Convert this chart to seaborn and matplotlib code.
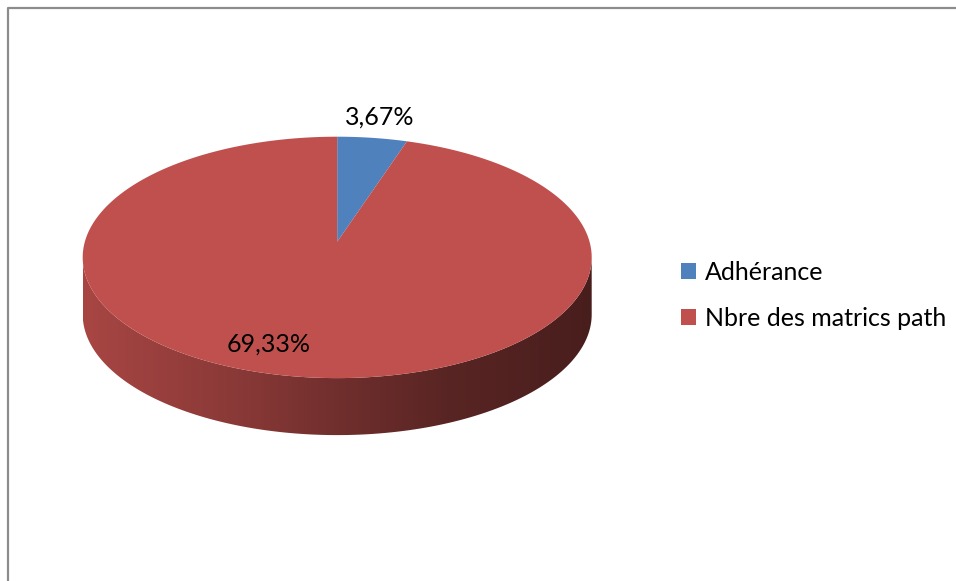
import numpy as np
import matplotlib
matplotlib.use("Agg")
import matplotlib.pyplot as plt
import seaborn as sns
from matplotlib.patches import Polygon, Patch

# Data
categories = ["Adhérance", "Nbre des matrics path"]
values = [3.67, 69.33]
colors = ["#4F81BD", "#C0504D"]

sns.set_theme(style="white")
plt.rcParams["font.family"] = ["Lato", "DejaVu Sans"]

fig = plt.figure(figsize=(9.56, 5.81), dpi=100)
ax = fig.add_axes([0, 0, 1, 1])
ax.set_xlim(0, 956)
ax.set_ylim(581, 0)
ax.axis("off")

# Geometry of the tilted disc (pixel space) and perspective strength
cx, cy, a, b, k, depth = 337.2, 257.4, 254.5, 120.7, 0.13, 57
sx = a * np.sqrt(1 - k * k)


def project(phi, drop=0.0):
    """Point on the unit rim at angle phi (clockwise from top) -> screen."""
    u, v = np.sin(phi), np.cos(phi)
    w = 1 + k * v
    return cx + sx * u / w, cy - b * (v + k) / w + drop


apex = (cx, cy - b * k)

# slice angles, starting at 12 o'clock and going clockwise
fracs = np.array(values) / np.sum(values)
edges = np.concatenate([[0], np.cumsum(fracs)]) * 2 * np.pi

# shading of the rim from left (lit) to right (shadow)
shade_t = [0.0, 0.33, 0.5, 0.72, 1.0]
shade_f = [0.875, 0.70, 0.585, 0.46, 0.375]

front_lo = np.arccos(-k)
front_hi = 2 * np.pi - front_lo

for i, col in enumerate(colors):
    lo = max(edges[i], front_lo)
    hi = min(edges[i + 1], front_hi)
    if hi <= lo:
        continue
    ph = np.linspace(lo, hi, 300)
    tx, ty = project(ph)
    bx, by = project(ph[::-1], depth)
    poly = Polygon(np.column_stack([np.r_[tx, bx], np.r_[ty, by]]),
                   closed=True, facecolor="none", edgecolor="none")
    ax.add_patch(poly)
    base = np.array(matplotlib.colors.to_rgb(col))
    xs = np.linspace(cx - a, cx + a, 512)
    t = (xs - (cx - a)) / (2 * a)
    f = np.interp(t, shade_t, shade_f)
    img = (base[None, :] * f[:, None])[None, :, :]
    im = ax.imshow(img, extent=(cx - a, cx + a, cy + b + depth + 5, cy - 5),
                   aspect="auto", interpolation="bilinear", zorder=1)
    im.set_clip_path(poly)

# top faces
for i, col in enumerate(colors):
    ph = np.linspace(edges[i], edges[i + 1], 400)
    x, y = project(ph)
    pts = np.column_stack([np.r_[apex[0], x], np.r_[apex[1], y]])
    ax.add_patch(Polygon(pts, closed=True, facecolor=col,
                         edgecolor="none", zorder=2))

# data labels
label_pos = [(380, 117), (269, 344)]
for v, (lx, ly) in zip(values, label_pos):
    ax.text(lx, ly, f"{v:.2f}%".replace(".", ","), ha="center", va="center",
            fontsize=18, color="black", zorder=3)

# legend
handles = [Patch(facecolor=c, edgecolor="none") for c in colors]
ax.legend(handles, categories, loc="upper left",
          bbox_to_anchor=(681, 261), bbox_transform=ax.transData,
          frameon=False, fontsize=18, handlelength=0.6, handleheight=0.6,
          handletextpad=0.36, labelspacing=0.92, borderaxespad=0,
          borderpad=0, labelcolor="black")

# chart area border (top and left visible)
ax.plot([8, 8, 956], [581, 8, 8], color="#8c8c8c", lw=1.6,
        solid_capstyle="butt", zorder=4)

fig.savefig("out.png", dpi=100, facecolor="white")
